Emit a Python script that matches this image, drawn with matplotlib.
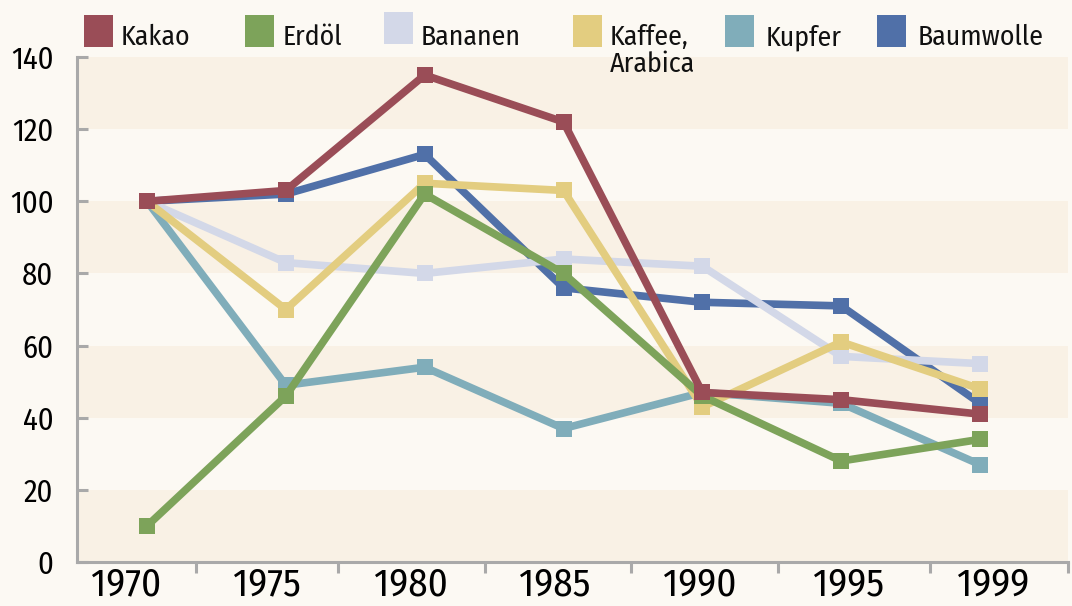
import matplotlib
matplotlib.use("Agg")
import matplotlib.pyplot as plt
from matplotlib.patches import Rectangle
import numpy as np

plt.rcParams['font.family'] = ['Fira Sans Condensed', 'DejaVu Sans']

years = ["1970", "1975", "1980", "1985", "1990", "1995", "1999"]
kakao = [100, 103, 135, 122, 47, 45, 41]
erdoel = [10, 46, 102, 80, 46, 28, 34]
bananen = [100, 83, 80, 84, 82, 57, 55]
kaffee = [100, 70, 105, 103, 43, 61, 48]
kupfer = [100, 49, 54, 37, 47, 44, 27]
baumwolle = [100, 102, 113, 76, 72, 71, 44]

series_names = ["Kakao", "Erdöl", "Bananen", "Kaffee,\nArabica", "Kupfer", "Baumwolle"]
series_values = [kakao, erdoel, bananen, kaffee, kupfer, baumwolle]
colors = ["#9A4D57", "#7DA35A", "#D3D8E8", "#E3CD80", "#80ADBA", "#5070A8"]
zorders = [9, 8, 5, 7, 4, 3]
yticks = [0, 20, 40, 60, 80, 100, 120, 140]

W, H = 1072, 606
bg = "#FCF9F3"
band = "#F9F1E5"
grey = "#A9A9A9"

fig = plt.figure(figsize=(W / 100, H / 100), dpi=100, facecolor=bg)
ax = fig.add_axes([77 / W, 1 - 562 / H, (1068 - 77) / W, (562 - 57) / H])
ax.set_facecolor(bg)

x = np.arange(len(years))
px_per_unit = (980 - 147) / 6.0
ax.set_xlim((77 - 147) / px_per_unit, (1068 - 147) / px_per_unit)
ax.set_ylim(0, 140)

# alternating bands
for i, lo in enumerate(yticks[:-1]):
    if i % 2 == 0:
        ax.axhspan(lo, lo + 20, color=band, zorder=0, lw=0)

for name, vals, c, z in zip(series_names, series_values, colors, zorders):
    ax.plot(x, vals, color=c, lw=5.5, marker='s', markersize=11,
            markeredgewidth=0, zorder=z, solid_joinstyle='miter')

for s in ['top', 'right']:
    ax.spines[s].set_visible(False)
for s in ['left', 'bottom']:
    ax.spines[s].set_color(grey)
    ax.spines[s].set_linewidth(2.2)

# y axis
ax.set_yticks(yticks)
ax.set_yticklabels([str(v) for v in yticks], fontsize=22)
ax.tick_params(axis='y', direction='in', length=8, width=2.2, color=grey, pad=17)

# x axis: labels between boundary ticks
label_pos = [(p - 147) / px_per_unit for p in [126, 267, 411, 555, 700, 848, 993]]
bound_pos = [(p - 147) / px_per_unit for p in [196, 338, 485, 631, 778, 930, 1068]]
ax.set_xticks(label_pos)
ax.set_xticklabels(years, fontsize=28)
ax.tick_params(axis='x', which='major', length=0, pad=3)
ax.set_xticks(bound_pos, minor=True)
ax.tick_params(axis='x', which='minor', direction='out', length=8, width=2.2, color=grey)

# legend
sq_x = [84, 245, 384, 573, 725, 877]
sq_y = [15, 15, 12, 15, 15, 15]
tx_x = [121, 283, 421, 610, 766, 918]
for name, c, sx, sy, tx in zip(series_names, colors, sq_x, sq_y, tx_x):
    fig.patches.append(Rectangle((sx / W, 1 - (sy + 32) / H), 29 / W, 32 / H,
                                 transform=fig.transFigure, color=c, lw=0))
    for k, line in enumerate(name.split("\n")):
        fig.text(tx / W, 1 - (45 + 27 * k) / H, line, fontsize=20,
                 va='baseline', ha='left', color='#111111')

fig.savefig("out.png", dpi=100, facecolor=bg)
